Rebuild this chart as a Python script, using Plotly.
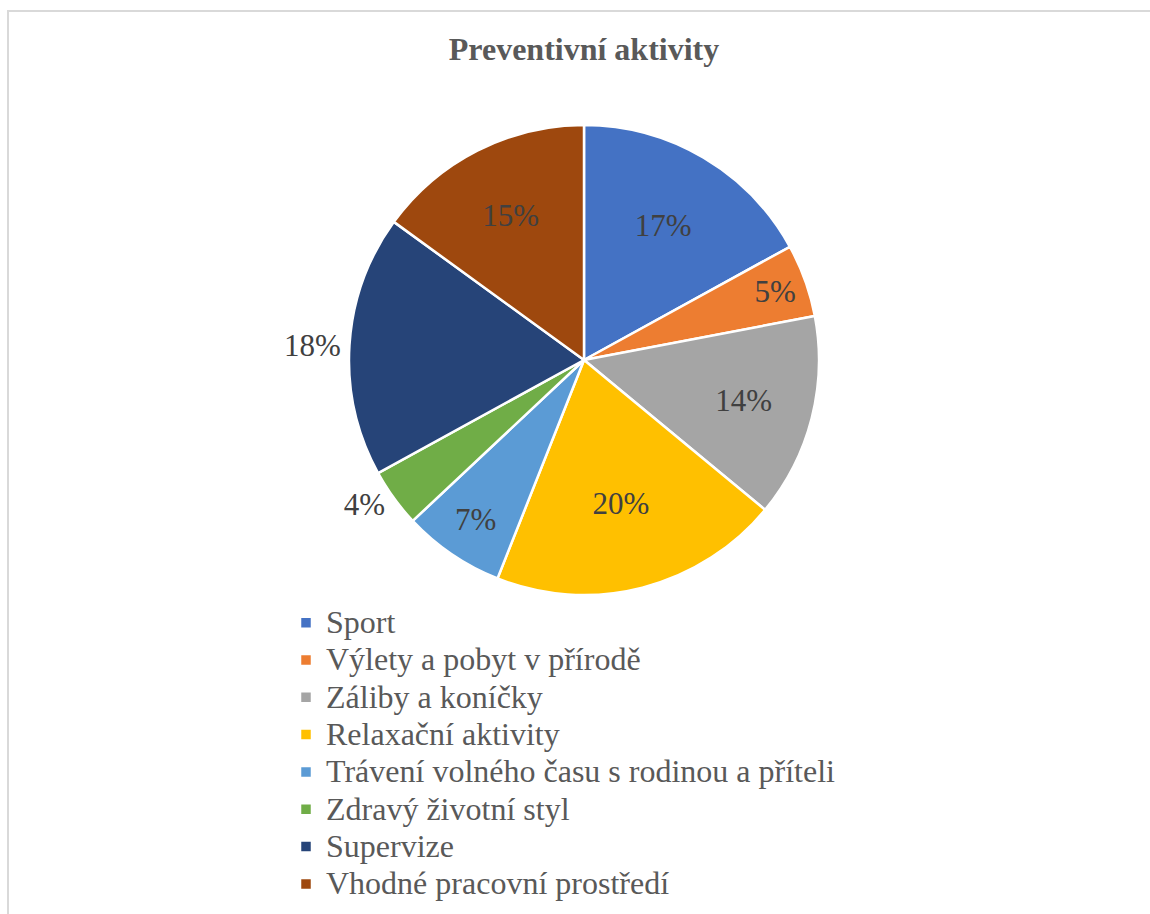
import plotly.graph_objects as go

W, H = 1150, 914

title = "Preventivní aktivity"
categories = [
    "Sport",
    "Výlety a pobyt v přírodě",
    "Záliby a koníčky",
    "Relaxační aktivity",
    "Trávení volného času s rodinou a příteli",
    "Zdravý životní styl",
    "Supervize",
    "Vhodné pracovní prostředí",
]
values = [17, 5, 14, 20, 7, 4, 18, 15]
colors = ["#4472C4", "#ED7D31", "#A5A5A5", "#FFC000",
          "#5B9BD5", "#70AD47", "#264478", "#9E480E"]
text_positions = ["inside", "inside", "inside", "inside",
                  "inside", "outside", "outside", "inside"]

SERIF = "Liberation Serif, Times New Roman, serif"
legend_labels = ['<span style="font-size:32px">%s</span>' % c for c in categories]

fig = go.Figure(go.Pie(
    labels=legend_labels,
    values=values,
    sort=False,
    direction="clockwise",
    rotation=0,
    marker=dict(colors=colors, line=dict(color="white", width=2.5)),
    texttemplate="%{percent:.0%}",
    textposition=text_positions,
    insidetextorientation="horizontal",
    textfont=dict(family=SERIF, size=31, color="#404040"),
    insidetextfont=dict(family=SERIF, size=31, color="#404040"),
    outsidetextfont=dict(family=SERIF, size=31, color="#404040"),
    hoverinfo="none",
    domain=dict(x=[349 / W, 819 / W], y=[1 - 595 / H, 1 - 125 / H]),
))

fig.update_layout(
    width=W, height=H,
    margin=dict(l=0, r=0, t=0, b=0),
    paper_bgcolor="white",
    plot_bgcolor="white",
    title=dict(
        text="<b>%s</b>" % title,
        x=584 / W, xanchor="center",
        y=1 - 49 / H, yanchor="middle",
        font=dict(family=SERIF, size=32, color="#595959"),
    ),
    legend=dict(
        x=286 / W, xanchor="left",
        y=1 - 599 / H, yanchor="top",
        orientation="v",
        font=dict(family=SERIF, size=26.4, color="#595959"),
        itemwidth=30,
        bgcolor="rgba(0,0,0,0)",
        traceorder="normal",
    ),
    shapes=[dict(
        type="rect", xref="paper", yref="paper",
        x0=8 / W, x1=1.2, y0=-0.2, y1=1 - 11 / H,
        line=dict(color="#D9D9D9", width=2),
        fillcolor="rgba(0,0,0,0)",
        layer="below",
    )],
)

fig.write_html("out.html")
